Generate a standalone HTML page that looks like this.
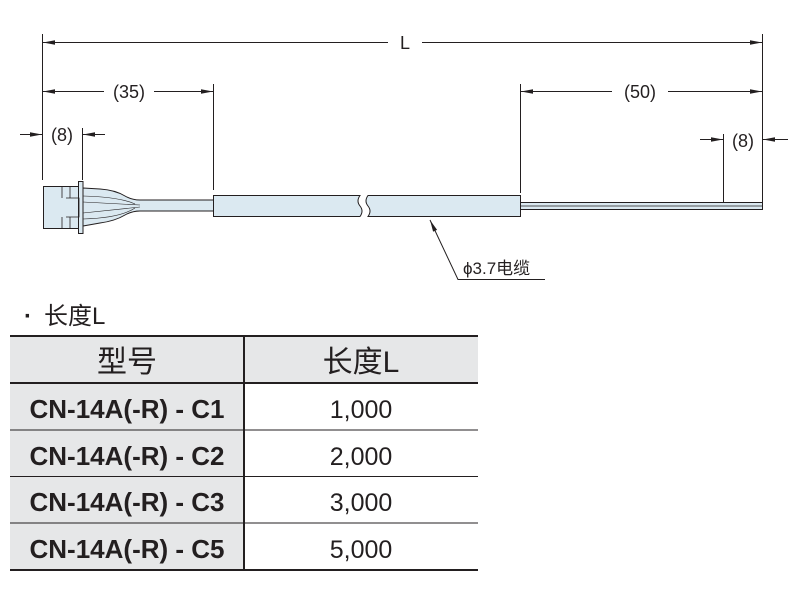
<!DOCTYPE html>
<html><head><meta charset="utf-8"><style>
body{margin:0;background:#fff;width:800px;height:599px;overflow:hidden;position:relative;font-family:"Liberation Sans","Noto Sans CJK SC",sans-serif;}
svg{position:absolute;left:0;top:0}
</style></head><body>
<svg width="800" height="599" viewBox="0 0 800 599">
<defs>
<marker id="a" markerWidth="12" markerHeight="6" refX="12" refY="3" orient="auto" markerUnits="userSpaceOnUse"><path d="M0,0.8 L12,3 L0,5.2z" fill="#231f20"/></marker>
</defs>
<g stroke="#231f20" stroke-width="1" fill="none">
<line x1="42.5" y1="34" x2="42.5" y2="180"/>
<line x1="762.5" y1="34" x2="762.5" y2="205"/>
<line x1="213.5" y1="84" x2="213.5" y2="190"/>
<line x1="520.5" y1="84" x2="520.5" y2="193"/>
<line x1="82.5" y1="128" x2="82.5" y2="180"/>
<line x1="723.5" y1="134" x2="723.5" y2="205"/>
<line x1="388" y1="42.5" x2="43" y2="42.5" marker-end="url(#a)"/>
<line x1="422" y1="42.5" x2="762" y2="42.5" marker-end="url(#a)"/>
<line x1="104" y1="91.5" x2="43" y2="91.5" marker-end="url(#a)"/>
<line x1="154" y1="91.5" x2="213" y2="91.5" marker-end="url(#a)"/>
<line x1="612" y1="91.5" x2="521" y2="91.5" marker-end="url(#a)"/>
<line x1="668" y1="91.5" x2="762" y2="91.5" marker-end="url(#a)"/>
<line x1="20" y1="134.5" x2="42" y2="134.5" marker-end="url(#a)"/>
<line x1="105" y1="134.5" x2="83" y2="134.5" marker-end="url(#a)"/>
<line x1="700" y1="139.5" x2="723" y2="139.5" marker-end="url(#a)"/>
<line x1="788" y1="139.5" x2="763" y2="139.5" marker-end="url(#a)"/>
<polyline points="545,279.5 458,279.5 430,220" marker-end="url(#a)"/>
</g>
<g stroke="#231f20" stroke-width="1" fill="#dbe9f1">
<path d="M83,188 L100,189 Q115,190 125,196 Q132,200 140,200 L214,200 L214,211 L140,211 Q132,211 125,215 Q115,221 100,223 L83,226z"/>
<rect x="43.5" y="186.5" width="35" height="42"/>
<rect x="78.5" y="181.5" width="4.5" height="52"/>
<path d="M66,198 H79 V217 H66" fill="none" stroke-width="0.8"/>
<line x1="62" y1="187" x2="62" y2="198" stroke-width="0.8"/>
<line x1="62" y1="217" x2="62" y2="228" stroke-width="0.8"/>
<line x1="70" y1="187" x2="70" y2="198" stroke-width="0.8"/>
<line x1="70" y1="217" x2="70" y2="228" stroke-width="0.8"/>
<path d="M83,196 Q120,197 135,204 M83,219 Q120,218 135,208 M83,202 L140,205 M83,213 L140,207" fill="none" stroke-width="0.6"/>
<path d="M213.5,195.5 H360 Q356,201 360,206 Q364,211 360,216.5 H213.5z"/>
<path d="M520.5,195.5 H368 Q364,201 368,206 Q372,211 368,216.5 H520.5z"/>
<rect x="520.5" y="202.5" width="242" height="7"/>
<line x1="521" y1="206" x2="762" y2="206" stroke-width="0.7"/>
</g>
<g fill="#231f20" font-size="18" text-anchor="middle">
<text x="405" y="49">L</text>
<text x="129" y="98">(35)</text>
<text x="640" y="98">(50)</text>
<text x="62" y="141">(8)</text>
<text x="743" y="147">(8)</text>
<text x="463" y="274" text-anchor="start" font-size="17">ϕ3.7电缆</text>
<text x="24" y="324" text-anchor="start" font-size="24" font-weight="bold">·</text>
<text x="44" y="324" text-anchor="start" font-size="24">长度L</text>
</g>
<rect x="10" y="336" width="234" height="234" fill="#e6e7e8"/>
<rect x="244" y="336" width="234" height="47" fill="#e6e7e8"/>
<g stroke="#231f20">
<line x1="10" y1="336" x2="478" y2="336" stroke-width="2"/>
<line x1="10" y1="383" x2="478" y2="383" stroke-width="2"/>
<line x1="10" y1="430" x2="478" y2="430" stroke-width="1"/>
<line x1="10" y1="476.5" x2="478" y2="476.5" stroke-width="1"/>
<line x1="10" y1="523" x2="478" y2="523" stroke-width="1"/>
<line x1="10" y1="570" x2="478" y2="570" stroke-width="2"/>
<line x1="244" y1="336" x2="244" y2="570" stroke-width="2"/>
</g>
<g fill="#231f20" text-anchor="middle">
<text x="127" y="372" font-size="30">型号</text>
<text x="361" y="372" font-size="30">长度L</text>
<g font-size="26" font-weight="bold">
<text x="127" y="418">CN-14A(-R) - C1</text>
<text x="127" y="465">CN-14A(-R) - C2</text>
<text x="127" y="511">CN-14A(-R) - C3</text>
<text x="127" y="558">CN-14A(-R) - C5</text>
</g>
<g font-size="25">
<text x="361" y="418">1,000</text>
<text x="361" y="465">2,000</text>
<text x="361" y="511">3,000</text>
<text x="361" y="558">5,000</text>
</g>
</g>
</svg>
</body></html>
